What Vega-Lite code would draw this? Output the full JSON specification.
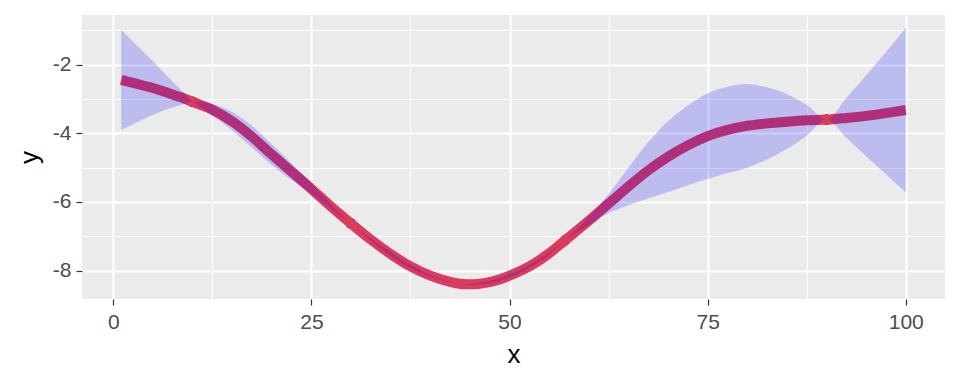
{
  "$schema": "https://vega.github.io/schema/vega-lite/v6.json",
  "width": 863,
  "height": 284,
  "autosize": {"type": "none"},
  "padding": {"left": 82, "top": 15, "right": 15, "bottom": 85},
  "background": "white",
  "config": {
    "view": {"fill": "#EBEBEB", "stroke": null},
    "font": "Liberation Sans",
    "axis": {
      "domain": false,
      "gridColor": "white",
      "tickColor": "#333333",
      "tickSize": 6,
      "tickWidth": 1.2,
      "labelColor": "#4D4D4D",
      "labelFontSize": 21,
      "labelFont": "Liberation Sans",
      "titleFont": "Liberation Sans",
      "titleFontSize": 26,
      "titleFontWeight": "normal",
      "titleColor": "#000000"
    }
  },
  "datasets": {
    "curve": [
      {"x": 1, "mean": -2.44, "lo": -3.90, "hi": -0.98},
      {"x": 2, "mean": -2.50, "lo": -3.79, "hi": -1.21},
      {"x": 3, "mean": -2.56, "lo": -3.68, "hi": -1.44},
      {"x": 4, "mean": -2.62, "lo": -3.57, "hi": -1.67},
      {"x": 5, "mean": -2.68, "lo": -3.46, "hi": -1.90},
      {"x": 6, "mean": -2.75, "lo": -3.36, "hi": -2.14},
      {"x": 7, "mean": -2.83, "lo": -3.28, "hi": -2.38},
      {"x": 8, "mean": -2.91, "lo": -3.21, "hi": -2.61},
      {"x": 9, "mean": -2.99, "lo": -3.14, "hi": -2.84},
      {"x": 10, "mean": -3.08, "lo": -3.08, "hi": -3.08},
      {"x": 11, "mean": -3.17, "lo": -3.25, "hi": -3.09},
      {"x": 12.5, "mean": -3.31, "lo": -3.48, "hi": -3.14},
      {"x": 15, "mean": -3.65, "lo": -3.92, "hi": -3.38},
      {"x": 17.5, "mean": -4.10, "lo": -4.42, "hi": -3.78},
      {"x": 20, "mean": -4.62, "lo": -4.92, "hi": -4.32},
      {"x": 22.5, "mean": -5.12, "lo": -5.36, "hi": -4.88},
      {"x": 25, "mean": -5.62, "lo": -5.77, "hi": -5.47},
      {"x": 27.5, "mean": -6.14, "lo": -6.21, "hi": -6.07},
      {"x": 30, "mean": -6.63, "lo": -6.63, "hi": -6.63},
      {"x": 32.5, "mean": -7.10, "lo": -7.14, "hi": -7.06},
      {"x": 35, "mean": -7.52, "lo": -7.58, "hi": -7.46},
      {"x": 37.5, "mean": -7.88, "lo": -7.93, "hi": -7.83},
      {"x": 40, "mean": -8.15, "lo": -8.18, "hi": -8.12},
      {"x": 42.5, "mean": -8.33, "lo": -8.34, "hi": -8.32},
      {"x": 44, "mean": -8.39, "lo": -8.39, "hi": -8.39},
      {"x": 46, "mean": -8.39, "lo": -8.41, "hi": -8.37},
      {"x": 48, "mean": -8.31, "lo": -8.35, "hi": -8.27},
      {"x": 50, "mean": -8.15, "lo": -8.20, "hi": -8.10},
      {"x": 52.5, "mean": -7.88, "lo": -7.93, "hi": -7.83},
      {"x": 55, "mean": -7.50, "lo": -7.54, "hi": -7.46},
      {"x": 57, "mean": -7.12, "lo": -7.12, "hi": -7.12},
      {"x": 60, "mean": -6.55, "lo": -6.67, "hi": -6.43},
      {"x": 62.5, "mean": -6.05, "lo": -6.33, "hi": -5.77},
      {"x": 65, "mean": -5.55, "lo": -6.10, "hi": -5.00},
      {"x": 67.5, "mean": -5.08, "lo": -5.90, "hi": -4.26},
      {"x": 70, "mean": -4.68, "lo": -5.71, "hi": -3.65},
      {"x": 72.5, "mean": -4.35, "lo": -5.51, "hi": -3.19},
      {"x": 75, "mean": -4.08, "lo": -5.33, "hi": -2.83},
      {"x": 77.5, "mean": -3.90, "lo": -5.16, "hi": -2.64},
      {"x": 80, "mean": -3.78, "lo": -5.00, "hi": -2.56},
      {"x": 82.5, "mean": -3.71, "lo": -4.76, "hi": -2.66},
      {"x": 85, "mean": -3.66, "lo": -4.46, "hi": -2.86},
      {"x": 87.5, "mean": -3.62, "lo": -4.07, "hi": -3.17},
      {"x": 90, "mean": -3.60, "lo": -3.60, "hi": -3.60},
      {"x": 92.5, "mean": -3.55, "lo": -4.13, "hi": -2.97},
      {"x": 95, "mean": -3.49, "lo": -4.67, "hi": -2.31},
      {"x": 97.5, "mean": -3.41, "lo": -5.19, "hi": -1.63},
      {"x": 100, "mean": -3.32, "lo": -5.72, "hi": -0.92}
    ],
    "obs": [
      {"x": 10, "y": -3.08},
      {"x": 30, "y": -6.63},
      {"x": 44, "y": -8.39},
      {"x": 57, "y": -7.12},
      {"x": 90, "y": -3.60}
    ]
  },
  "encoding": {
    "x": {
      "type": "quantitative",
      "scale": {"domain": [-3.95, 104.95], "nice": false, "zero": false},
      "axis": {
        "title": "x",
        "values": [0, 12.5, 25, 37.5, 50, 62.5, 75, 87.5, 100],
        "labelExpr": "datum.value % 25 === 0 ? '' + datum.value : ''",
        "gridWidth": {"condition": {"test": "datum.value % 25 !== 0", "value": 1.1}, "value": 2.2},
        "tickOpacity": {"condition": {"test": "datum.value % 25 !== 0", "value": 0}, "value": 1},
        "labelPadding": 6,
        "titlePadding": 9
      }
    }
  },
  "layer": [
    {
      "data": {"name": "obs"},
      "mark": {"type": "point", "filled": true, "color": "black", "opacity": 1, "size": 110},
      "encoding": {
        "x": {"field": "x", "type": "quantitative"},
        "y": {
          "field": "y",
          "type": "quantitative",
          "scale": {"domain": [-8.83, -0.55], "nice": false, "zero": false},
          "axis": {
            "title": "y",
            "values": [-8, -7, -6, -5, -4, -3, -2, -1],
            "labelExpr": "datum.value % 2 === 0 ? '' + datum.value : ''",
            "gridWidth": {"condition": {"test": "datum.value % 2 !== 0", "value": 1.1}, "value": 2.2},
            "tickOpacity": {"condition": {"test": "datum.value % 2 !== 0", "value": 0}, "value": 1},
            "labelPadding": 5,
            "titlePadding": 10
          }
        }
      }
    },
    {
      "data": {"name": "curve"},
      "mark": {"type": "line", "color": "#DC3B5B", "strokeWidth": 10, "interpolate": "catmull-rom"},
      "encoding": {
        "x": {"field": "x", "type": "quantitative"},
        "y": {"field": "mean", "type": "quantitative"}
      }
    },
    {
      "data": {"name": "curve"},
      "mark": {"type": "area", "color": "#0000FF", "opacity": 0.2, "interpolate": "catmull-rom"},
      "encoding": {
        "x": {"field": "x", "type": "quantitative"},
        "y": {"field": "hi", "type": "quantitative"},
        "y2": {"field": "lo"}
      }
    }
  ]
}
